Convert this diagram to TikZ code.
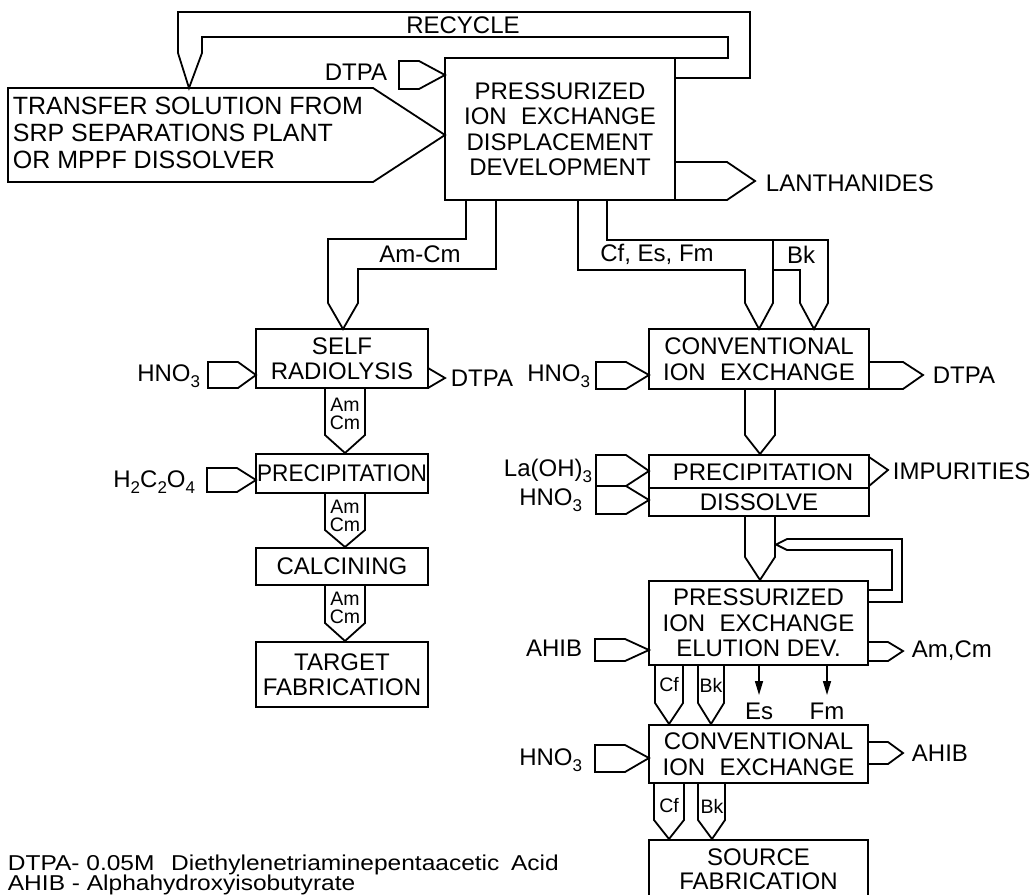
\documentclass[tikz,border=0pt]{standalone}
\usepackage{fontspec}
\setmainfont{Liberation Sans}
\usetikzlibrary{arrows.meta}
\newcommand{\lsub}[1]{\raisebox{-0.45ex}{\fontsize{17}{17}\selectfont #1}}
\newcommand{\wsp}{\hspace{0.6em}}
\begin{document}
\begin{tikzpicture}[x=1pt,y=-1pt, line width=1.8pt, line join=miter,
  procbox/.style={draw, inner sep=0pt, align=center, font=\fontsize{24}{25.5}\selectfont},
  lbl/.style={inner sep=0pt, font=\fontsize{24}{26}\selectfont},
  small/.style={inner sep=0pt, align=center, font=\fontsize{19.5}{18.5}\selectfont},
  note/.style={inner sep=0pt, anchor=west, font=\fontsize{21.5}{20}\selectfont},
  thinarrow/.style={line width=1.5pt, -{Triangle[length=14pt,width=8pt]}}]
\useasboundingbox (0,0) rectangle (1032,894);

% ---------- main displacement box
\node[procbox, minimum width=230pt, minimum height=142pt] (pm) at (560,129)
  {PRESSURIZED\\ION\wsp EXCHANGE\\DISPLACEMENT\\DEVELOPMENT};

% recycle loop
\draw (675,78) -- (750,78) -- (750,12) -- (178,12) -- (178,53) -- (189,88)
      -- (202,53) -- (202,37) -- (728,37) -- (728,58) -- (675,58);
\node[lbl] (rec) at (463,25) {RECYCLE};

% transfer solution feed
\draw (8,88) -- (373,88) -- (445,135) -- (373,182) -- (8,182) -- cycle;
\node[lbl, anchor=west, align=left, font=\fontsize{25}{27}\selectfont] (tr) at (12,133)
  {TRANSFER SOLUTION FROM\\SRP SEPARATIONS PLANT\\OR MPPF DISSOLVER};

% DTPA feed
\draw (399,61) -- (419,61) -- (445,75) -- (419,89) -- (399,89) -- cycle;
\node[lbl, anchor=east] (dtpa1) at (388,72) {DTPA};

% lanthanides
\draw (675,162) -- (727,162) -- (755,181) -- (727,200) -- (675,200);
\node[lbl, anchor=west] (lan) at (765,183) {LANTHANIDES};

% Am-Cm pipe
\draw (466,200) -- (466,239) -- (328,239) -- (328,303) -- (343,329)
      -- (358,303) -- (358,269) -- (496,269) -- (496,200);
\node[lbl] (amcm) at (420,254) {Am-Cm};

% ---------- left column
\node[procbox, minimum width=172pt, minimum height=59pt] (sr) at (342,358.5)
  {SELF\\RADIOLYSIS};
\draw (208,362) -- (238,362) -- (256,375) -- (238,388) -- (208,388) -- cycle;
\node[lbl, anchor=east] (hno1) at (201,376) {HNO\lsub{3}};
\draw (428,368) -- (445,378) -- (428,388);
\node[lbl, anchor=west] (dtpa2) at (450,378) {DTPA};

\draw (325,388) -- (325,435) -- (345,453) -- (365,435) -- (365,388);
\node[small] (p1) at (345,414) {Am\\Cm};

\node[procbox, minimum width=172pt, minimum height=39pt] (lp) at (342,473.5)
  {\scalebox{0.94}[1]{PRECIPITATION}};
\draw (207,468) -- (237,468) -- (256,480) -- (237,492) -- (207,492) -- cycle;
\node[lbl, anchor=east] (oxa) at (196,482) {H\lsub{2}C\lsub{2}O\lsub{4}};

\draw (325,493) -- (325,530) -- (345,547) -- (365,530) -- (365,493);
\node[small] (p2) at (345,516) {Am\\Cm};

\node[procbox, minimum width=172pt, minimum height=37pt] (lc) at (342,566.5)
  {CALCINING};

\draw (325,585) -- (325,623) -- (345,641) -- (365,623) -- (365,585);
\node[small] (p3) at (345,608) {Am\\Cm};

\node[procbox, minimum width=172pt, minimum height=65pt] (tf) at (342,674.5)
  {TARGET\\FABRICATION};

% ---------- right column: Cf,Es,Fm and Bk pipes
\draw (578,200) -- (578,270) -- (745,270) -- (745,303) -- (759,329)
      -- (773,303) -- (773,270) -- (800,270) -- (800,303) -- (814,329)
      -- (828,303) -- (828,240) -- (607,240) -- (607,200);
\draw (773,240) -- (773,270);
\node[lbl] (cfesfm) at (657,254) {Cf, Es, Fm};
\node[lbl] (bk0) at (801,255) {Bk};

\node[procbox, minimum width=220pt, minimum height=60pt] (ci1) at (759,359)
  {CONVENTIONAL\\ION\wsp EXCHANGE};
\draw (596,362) -- (626,362) -- (649,375) -- (626,389) -- (596,389) -- cycle;
\node[lbl, anchor=east] (hno2) at (591,376) {HNO\lsub{3}};
\draw (869,362) -- (903,362) -- (923,375) -- (903,389) -- (869,389);
\node[lbl, anchor=west] (dtpa3) at (932,375) {DTPA};

\draw (745,389) -- (745,435) -- (760,454) -- (775,435) -- (775,389);

\node[procbox, minimum width=220pt, minimum height=61pt] (pd) at (759,485.5) {};
\draw (649,488) -- (869,488);
\node[lbl] (prc) at (763,472) {PRECIPITATION};
\node[lbl] (dis) at (759,502) {DISSOLVE};
\draw (596,455) -- (626,455) -- (649,471) -- (626,486) -- (649,500) -- (626,514)
      -- (596,514) -- cycle;
\draw (596,486) -- (626,486);
\node[lbl, anchor=east] (laoh) at (593,471) {La(OH)\lsub{3}};
\node[lbl, anchor=east] (hno3) at (583,500) {HNO\lsub{3}};
\draw (869,457) -- (888,470) -- (869,486);
\node[lbl, anchor=west] (imp) at (892,471) {IMPURITIES};

% pipe into elution + recycle
\draw (745,516) -- (745,557) -- (760,580) -- (775,557) -- (775,516);
\draw (868,602) -- (902,602) -- (902,539) -- (787,539) -- (776,544.5)
      -- (787,550) -- (892,550) -- (892,590) -- (868,590);

\node[procbox, minimum width=219pt, minimum height=84pt] (pe) at (758.5,623)
  {PRESSURIZED\\ION\wsp EXCHANGE\\ELUTION DEV.};
\draw (595,639) -- (625,639) -- (649,650) -- (625,661) -- (595,661) -- cycle;
\node[lbl] [anchor=east] (ahib1) at (583,648) {AHIB};
\draw (868,642) -- (888,642) -- (903,651) -- (888,661) -- (868,661);
\node[lbl, anchor=west] (amcm2) at (911,651) {Am,Cm};

\draw[thinarrow] (759,665) -- (759,695);
\draw[thinarrow] (827,665) -- (827,695);
\node[lbl] (es) at (759,711) {Es};
\node[lbl] (fm) at (827,711) {Fm};

\draw (655,665) -- (655,703) -- (669,724) -- (683,703) -- (683,665);
\node[small] (cf1) at (669,685) {Cf};
\draw (698,665) -- (698,703) -- (711,724) -- (724,703) -- (724,665);
\node[small] (bk1) at (711,685) {Bk};

\node[procbox, minimum width=219pt, minimum height=58pt] (ci2) at (758.5,754)
  {CONVENTIONAL\\ION\wsp EXCHANGE};
\draw (595,745) -- (625,745) -- (649,758) -- (625,772) -- (595,772) -- cycle;
\node[lbl, anchor=east] (hno4) at (583,760) {HNO\lsub{3}};
\draw (868,742) -- (888,742) -- (903,753) -- (888,764) -- (868,764);
\node[lbl, anchor=west] (ahib2) at (911,753) {AHIB};

\draw (654,783) -- (654,820) -- (669,839) -- (684,820) -- (684,783);
\node[small] (cf2) at (669,806) {Cf};
\draw (698,783) -- (698,820) -- (712,839) -- (725,820) -- (725,783);
\node[small] (bk2) at (712,806) {Bk};

\draw (649,895) -- (649,840) -- (868,840) -- (868,895);
\node[lbl, align=center, font=\fontsize{24}{23.5}\selectfont] (sf) at (758.5,869)
  {SOURCE\\FABRICATION};

% ---------- notes
\node[note] (n1) at (7,865) {\scalebox{1.14}[1]{DTPA- 0.05M\hspace{0.4em} Diethylenetriaminepentaacetic\hspace{0.2em} Acid}};
\node[note] (n2) at (7,885) {\scalebox{1.14}[1]{AHIB - Alphahydroxyisobutyrate}};
\end{tikzpicture}
\end{document}
